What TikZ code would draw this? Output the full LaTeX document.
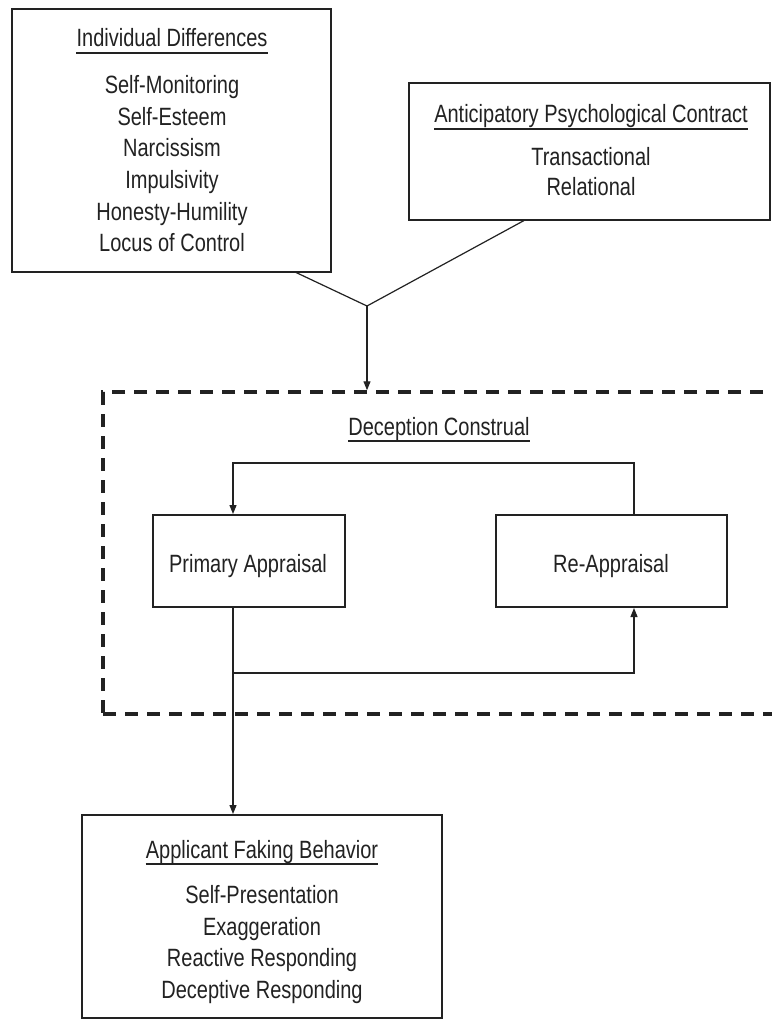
\documentclass[tikz,border=0pt]{standalone}
\usepackage{fontspec}
\setmainfont[FakeStretch=0.8]{Liberation Sans}
\usetikzlibrary{arrows.meta}
\definecolor{ink}{HTML}{222222}
\begin{document}
\begin{tikzpicture}[x=1pt,y=-1pt,
  box/.style={draw=ink,line width=2pt,inner sep=0pt,fill=none},
  txt/.style={text=ink,font=\fontsize{25}{30}\selectfont,inner sep=0pt,anchor=base},
  ttl/.style={txt},
  conn/.style={draw=ink,line width=1.2pt},
  arr/.style={conn,-{Triangle[length=9pt,width=7pt]}},
  dashbox/.style={draw=ink,line width=3.5pt,dash pattern=on 13pt off 9pt}]
\useasboundingbox (0,0) rectangle (771,1019);
\fill[white] (0,0) rectangle (771,1019);

% Individual Differences box
\node[box,minimum width=319pt,minimum height=263pt] (idbox) at (171.5,140.5) {};
\node[ttl] (idt) at (172,47) {Individual Differences};
\draw[conn] ([yshift=-6pt]idt.base west) -- ([yshift=-6pt]idt.base east);
\node[txt] (id1) at (172,94) {Self-Monitoring};
\node[txt] (id2) at (172,125.5) {Self-Esteem};
\node[txt] (id3) at (172,157) {Narcissism};
\node[txt] (id4) at (172,188.5) {Impulsivity};
\node[txt] (id5) at (172,220) {Honesty-Humility};
\node[txt] (id6) at (172,251.5) {Locus of Control};

% Anticipatory Psychological Contract box
\node[box,minimum width=361pt,minimum height=137pt] (apbox) at (589.5,151.5) {};
\node[ttl] (apt) at (591,123) {Anticipatory Psychological Contract};
\draw[conn] ([yshift=-6pt]apt.base west) -- ([yshift=-6pt]apt.base east);
\node[txt] (ap1) at (591,166) {Transactional};
\node[txt] (ap2) at (591,196) {Relational};

% junction
\coordinate (j) at (367,306);
\coordinate (idout) at (295,272);
\coordinate (apout) at (525,220);
\draw[conn] (idout) -- (j) -- (apout);

% Deception Construal dashed box
\node[dashbox,minimum width=675pt,minimum height=322pt,inner sep=0pt] (dcbox) at (440.5,553) {};
\draw[arr] (j) -- (dcbox.north -| j);
\node[ttl] (dct) at (439,435) {Deception Construal};
\draw[conn] ([yshift=-6pt]dct.base west) -- ([yshift=-6pt]dct.base east);

% Primary appraisal and re-appraisal
\node[box,minimum width=192pt,minimum height=92pt] (pa) at (249,561) {};
\node[txt] (pat) at (248,572) {Primary Appraisal};
\node[box,minimum width=231pt,minimum height=92pt] (ra) at (611.5,561) {};
\node[txt] (rat) at (611,572) {Re-Appraisal};

\coordinate (top) at (0,463);
\coordinate (bot) at (0,673);
\coordinate (paX) at (233,0);
\coordinate (raX) at (634,0);
\draw[arr] (raX |- ra.north) -- (raX |- top) -- (paX |- top) -- (paX |- pa.north);
\draw[arr] (paX |- bot) -- (raX |- bot) -- (raX |- ra.south);

% Applicant Faking Behavior box
\node[box,minimum width=360pt,minimum height=203pt] (afbox) at (262,916.5) {};
\draw[arr] (paX |- pa.south) -- (paX |- afbox.north);
\node[ttl] (aft) at (262,858) {Applicant Faking Behavior};
\draw[conn] ([yshift=-6pt]aft.base west) -- ([yshift=-6pt]aft.base east);
\node[txt] (af1) at (262,903) {Self-Presentation};
\node[txt] (af2) at (262,935) {Exaggeration};
\node[txt] (af3) at (262,966.5) {Reactive Responding};
\node[txt] (af4) at (262,998) {Deceptive Responding};
\end{tikzpicture}
\end{document}
